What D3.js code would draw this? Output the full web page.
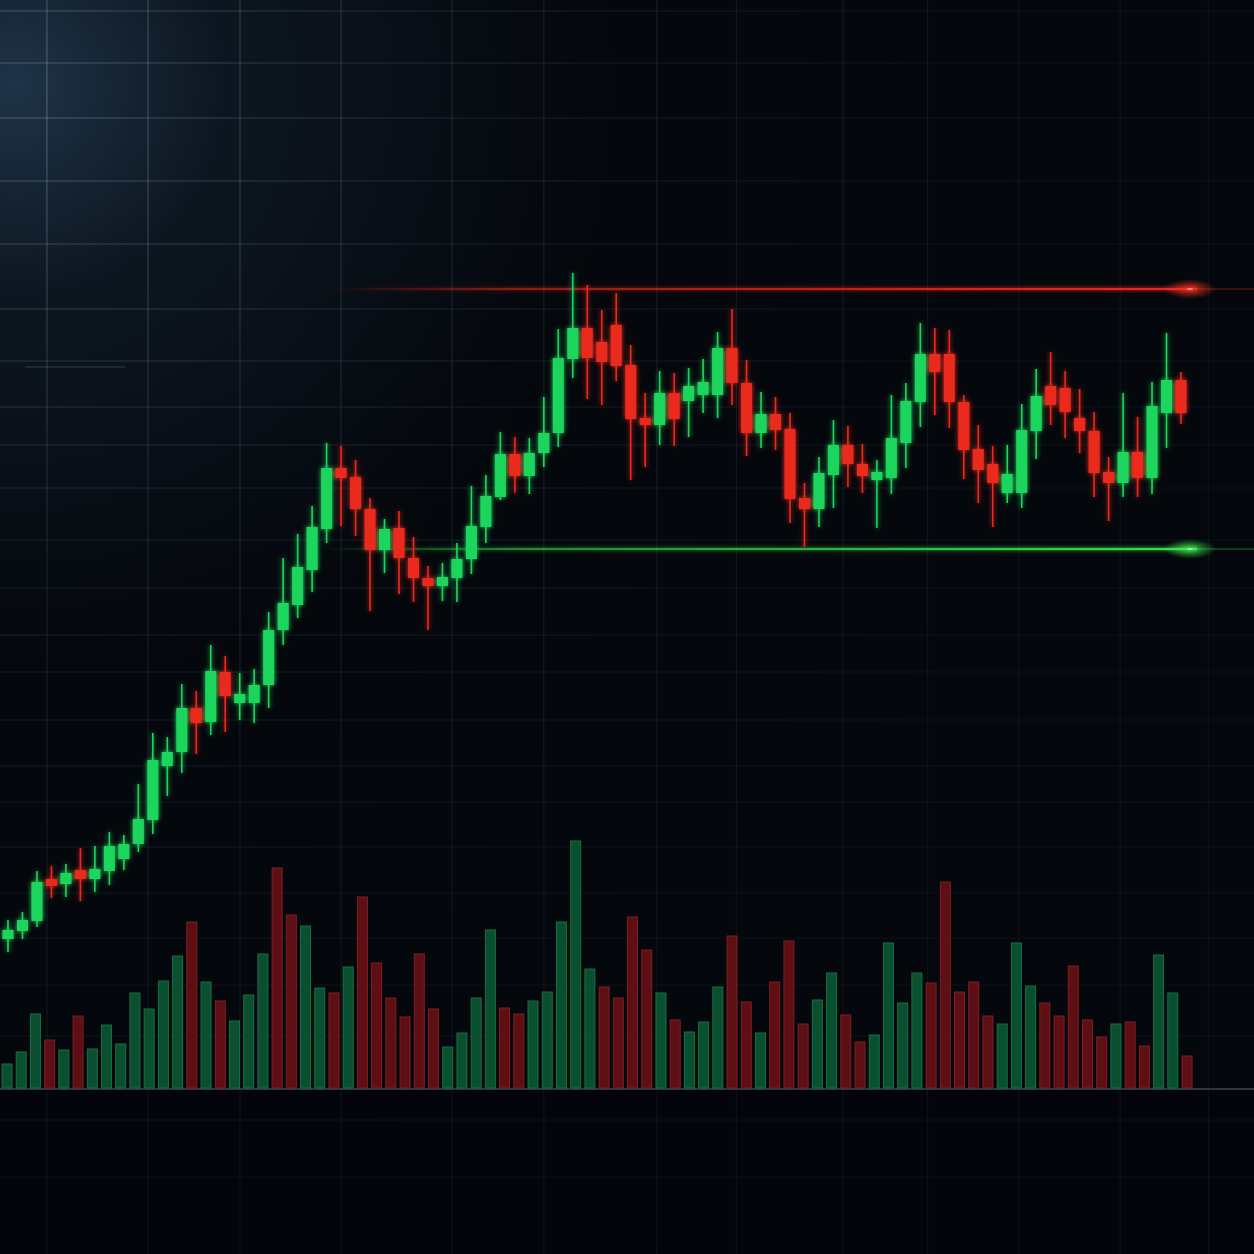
<!DOCTYPE html>
<html>
<head>
<meta charset="utf-8">
<script src="https://cdn.jsdelivr.net/npm/d3@7/dist/d3.min.js"></script>
<style>
html,body{margin:0;padding:0;background:#04070c;}
svg{display:block;}
</style>
</head>
<body>
<svg id="chart" width="1254" height="1254"></svg>
<script>
// ---- DATA ----
const opens  = [112.2,113.8,115.8,124.2,123.2,126,124.2,125.8,128.2,131.2,136,146.8,149.6,158.4,155.6,165.6,159.4,159.4,163,174,179,186,194.2,206.4,204.6,198.2,190,194.4,188.4,184.4,182.8,184.4,188.2,194.6,200.6,209.2,204.8,209.4,213.4,228.2,234.4,231.6,235,227,216.4,215,221.4,219.8,221,221,230.4,223.4,213.4,217.2,214.2,200.4,198.2,205,211,207.2,204,204.4,211.4,219.6,229.2,229.2,219.6,210.2,207.2,201.4,201.4,213.8,222.8,222.4,216.4,213.8,205.6,203.4,209.6,204.4,217.4,224];
const highs  = [116,117.6,125.8,126.8,127.2,130.4,130.8,133.6,133,143.2,153.4,152.6,163.2,161.8,171,168.8,165.4,166.2,177.6,188.4,193.2,198.8,211.4,210.8,208,200.4,196.2,197.8,192.6,186.8,187.4,191.4,202.8,205,213.6,212.6,212.4,220.6,234.2,245.4,243,238,241.4,231,221.4,225.8,225.4,226.4,228.2,233.6,238.2,228,221.6,220.6,217.4,203.4,208.6,216,214.8,211.2,208,221,223.4,235.4,234.4,234,221,215,210.8,211,219.2,226.2,229.6,225.8,222.2,217.6,208.6,221.4,216.6,223.6,233.4,225.6];
const lows   = [109.6,112.2,114.6,120.4,120.6,119.8,121.6,123,126,129.6,133.2,140.8,145.4,149.2,153,153.6,156,155.4,158.4,171,176.4,181.6,191.4,194.8,192.8,177.8,185.4,181.2,179.6,174,179.8,179.6,185.2,191.4,200,201.4,201.2,206.6,210.6,224.4,220.2,219,223.8,204,206.6,211,210.8,212.6,217.4,216.4,219,208.8,210.4,210,195.4,190.6,194.6,198.4,202.6,201.4,194.4,201.2,206.4,214.6,217,214.4,204.2,199.4,194.6,199.4,198.4,208.2,215,212.4,209.4,200.6,195.8,200.6,200.6,201.2,210.4,215.2];
const closes = [114,116,123.6,122.8,125.4,124.2,126.2,130.8,131.2,136.2,148,149.6,158.4,155.4,165.8,160.8,161.2,163,174,179.4,186.6,194.6,206.4,204.4,198.2,190,194.2,188.4,184.4,182.8,184.6,188.2,194.8,200.8,209.2,204.8,209.4,213.4,228.4,234.4,228.4,227.6,226.8,216.2,215,221.4,216.2,222.8,223.6,230.4,223.4,213.4,217.2,214,200.2,198.2,205.4,211,207.2,204.8,205.6,212.4,219.8,229.2,225.6,219.6,210,206,203.4,205.2,214,220.8,219,217.6,213.8,205.4,203.4,209.6,204.4,218.8,224,217.4];

const volumes    = [96,144,296,192,152,288,156,252,176,380,316,428,528,664,424,348,268,372,536,880,692,648,400,380,484,764,500,360,284,536,316,164,220,360,632,320,296,348,384,664,988,476,404,360,684,552,380,272,224,264,404,608,344,220,424,588,256,352,460,292,184,212,580,340,460,420,824,384,424,288,256,580,408,340,288,488,272,204,256,264,168,532,380,128];
const volumeSide = ["up","up","up","down","up","down","up","up","up","up","up","up","up","down","up","down","up","up","up","down","down","up","up","down","up","down","down","down","down","down","down","up","up","up","up","down","down","up","up","up","up","up","down","down","down","down","up","down","up","up","up","down","down","up","down","down","down","up","up","down","down","up","up","up","up","down","down","down","down","down","up","up","up","down","down","down","down","down","up","down","down","up","up","down"];

const resistanceLevel = 242.2;
const supportLevel = 190.2;

// decorative grid tick values (in scale units)
const gridPrices  = [297.8,287.4,276.4,263.8,251.2,238.2,227.8,218.6,211,202.4,192,182.4,173,165.6,156,146.8,139.6,130.6,121.4,112.4,103,92.8,76,64.6];
const gridIndexes = [2.69,9.67,16.02,23.0,30.66,37.0,44.8,50.3,57.66,63.5,69.8,76.8,82.9];

// ---- SCALES ----
const W = 1254, H = 1254;
const x = d3.scaleLinear().domain([0, opens.length - 1]).range([8, 1181]);
const y = d3.scaleLinear().domain([50, 300]).range([1250, 0]);
const xv = d3.scaleLinear().domain([0, volumes.length - 1]).range([7, 1187]);
const yv = d3.scaleLinear().domain([0, 1000]).range([1088, 838]);

const svg = d3.select("#chart");
const defs = svg.append("defs");

// background glow
const bg = defs.append("radialGradient").attr("id","bgGlow")
  .attr("gradientUnits","userSpaceOnUse").attr("cx",15).attr("cy",85).attr("r",600);
bg.append("stop").attr("offset","0").attr("stop-color","#1f3347");
bg.append("stop").attr("offset","0.35").attr("stop-color","#0d1620");
bg.append("stop").attr("offset","1").attr("stop-color","#04070c");

const gridGrad = defs.append("radialGradient").attr("id","gridGrad")
  .attr("gradientUnits","userSpaceOnUse").attr("cx",20).attr("cy",100).attr("r",1100);
gridGrad.append("stop").attr("offset","0").attr("stop-color","#6f8aa0").attr("stop-opacity",0.55);
gridGrad.append("stop").attr("offset","0.4").attr("stop-color","#4a5e70").attr("stop-opacity",0.28);
gridGrad.append("stop").attr("offset","1").attr("stop-color","#2a3844").attr("stop-opacity",0.22);

const glow = defs.append("filter").attr("id","glow")
  .attr("filterUnits","userSpaceOnUse").attr("x",-20).attr("y",0).attr("width",1294).attr("height",1254);
glow.append("feGaussianBlur").attr("in","SourceGraphic").attr("stdDeviation",2.5).attr("result","b");
const gm = glow.append("feMerge");
gm.append("feMergeNode").attr("in","b");
gm.append("feMergeNode").attr("in","SourceGraphic");

const lineGlow = defs.append("filter").attr("id","lineGlow")
  .attr("filterUnits","userSpaceOnUse").attr("x",0).attr("y",0).attr("width",1254).attr("height",1254);
lineGlow.append("feGaussianBlur").attr("in","SourceGraphic").attr("stdDeviation",2.2).attr("result","b");
const lm = lineGlow.append("feMerge");
lm.append("feMergeNode").attr("in","b");
lm.append("feMergeNode").attr("in","SourceGraphic");

function lineGradient(id, x0, x1, color) {
  const g = defs.append("linearGradient").attr("id", id)
    .attr("gradientUnits","userSpaceOnUse").attr("x1",x0).attr("x2",x1).attr("y1",0).attr("y2",0);
  g.append("stop").attr("offset","0").attr("stop-color",color).attr("stop-opacity",0);
  g.append("stop").attr("offset","0.22").attr("stop-color",color).attr("stop-opacity",0.5);
  g.append("stop").attr("offset","1").attr("stop-color",color).attr("stop-opacity",1);
}
lineGradient("resGrad", 330, 1197, "#f0281c");
lineGradient("supGrad", 320, 1197, "#34e046");

function endGlow(id, color) {
  const g = defs.append("radialGradient").attr("id", id);
  g.append("stop").attr("offset","0").attr("stop-color","#ffffff").attr("stop-opacity",0.85);
  g.append("stop").attr("offset","0.15").attr("stop-color",color).attr("stop-opacity",0.7);
  g.append("stop").attr("offset","1").attr("stop-color",color).attr("stop-opacity",0);
}
endGlow("resEnd", "#ff3020");
endGlow("supEnd", "#40f050");

// background
svg.append("rect").attr("width",W).attr("height",H).attr("fill","url(#bgGlow)");
svg.append("rect").attr("x",0).attr("y",1090).attr("width",W).attr("height",164).attr("fill","#03050a").attr("opacity",0.6);

// grid
const grid = svg.append("g").attr("stroke","url(#gridGrad)").attr("stroke-width",1.2);
grid.selectAll("line.h").data(gridPrices).join("line").attr("class","h")
  .attr("x1",0).attr("x2",W).attr("y1",d=>y(d)).attr("y2",d=>y(d));
grid.selectAll("line.v").data(gridIndexes).join("line").attr("class","v")
  .attr("y1",0).attr("y2",H).attr("x1",d=>x(d)).attr("x2",d=>x(d));
// faint short stray line
svg.append("line").attr("x1",25).attr("x2",125).attr("y1",y(226.6)).attr("y2",y(226.6))
  .attr("stroke","#5d7385").attr("stroke-opacity",0.45).attr("stroke-width",1);

// volume baseline
svg.append("line").attr("x1",0).attr("x2",W).attr("y1",yv(0)+1).attr("y2",yv(0)+1)
  .attr("stroke","#2a3641").attr("stroke-width",2);

// volume bars
const vb = svg.append("g");
vb.selectAll("rect").data(volumes).join("rect")
  .attr("x",(d,i)=>xv(i)-5)
  .attr("width",10)
  .attr("y",d=>yv(d))
  .attr("height",d=>yv(0)-yv(d))
  .attr("fill",(d,i)=>volumeSide[i]==="up" ? "#0b5632" : "#661015")
  .attr("stroke",(d,i)=>volumeSide[i]==="up" ? "#167a48" : "#8a2126")
  .attr("stroke-width",1)
  .attr("opacity",0.92);

// support / resistance lines
function level(val, grad, endId, color, x0) {
  const g = svg.append("g");
  const yy = y(val);
  g.append("rect").attr("x",1197).attr("width",W-1197).attr("y",yy-0.75).attr("height",1.5)
    .attr("fill",color).attr("fill-opacity",0.3);
  g.append("rect").attr("x",x0).attr("width",1197-x0).attr("y",yy-1.1).attr("height",2.2)
    .attr("fill",`url(#${grad})`).attr("filter","url(#lineGlow)");
  g.append("ellipse").attr("cx",1190).attr("cy",yy).attr("rx",26).attr("ry",10)
    .attr("fill",`url(#${endId})`);
}
level(resistanceLevel, "resGrad", "resEnd", "#ff3020", 330);
level(supportLevel, "supGrad", "supEnd", "#40f050", 320);

// candles
const candles = opens.map((o,i)=>({o, h:highs[i], l:lows[i], c:closes[i], i}));
const cg = svg.append("g").attr("filter","url(#glow)");
const up = "#1fd55c", down = "#ea2a1f";
const cs = cg.selectAll("g").data(candles).join("g");
cs.append("line")
  .attr("x1",d=>x(d.i)).attr("x2",d=>x(d.i))
  .attr("y1",d=>y(d.h)).attr("y2",d=>y(d.l))
  .attr("stroke",d=>d.c>=d.o?up:down).attr("stroke-width",1.6);
cs.append("rect")
  .attr("x",d=>x(d.i)-5.5).attr("width",11)
  .attr("y",d=>y(Math.max(d.o,d.c)))
  .attr("height",d=>Math.max(2, Math.abs(y(d.o)-y(d.c))))
  .attr("fill",d=>d.c>=d.o?up:down);
</script>
</body>
</html>
